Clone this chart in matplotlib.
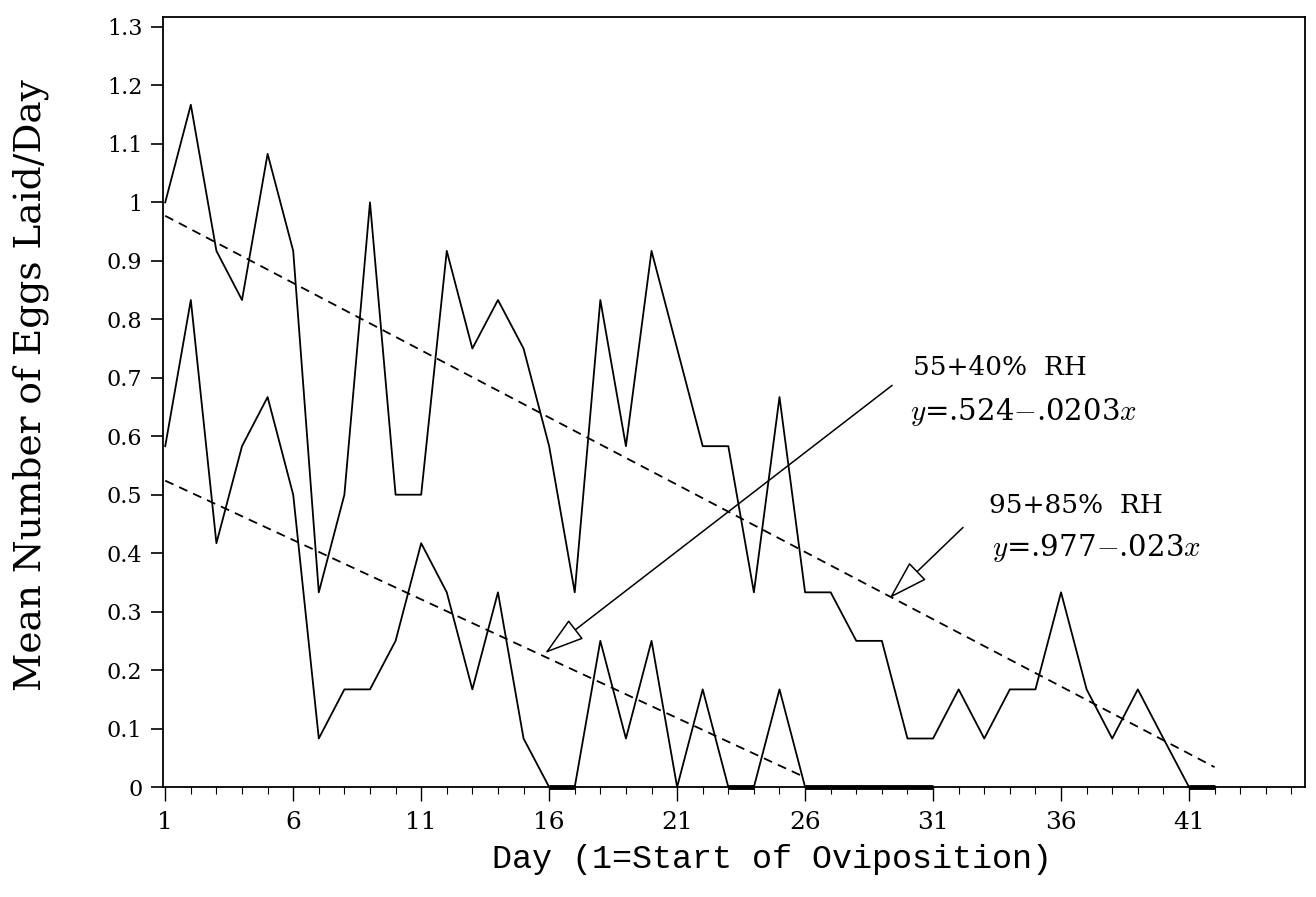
import numpy as np
import matplotlib
matplotlib.use("Agg")
import matplotlib.pyplot as plt
from matplotlib.ticker import FixedLocator

# mean eggs per day
days_high = np.arange(1, 43)
eggs_high = [1.0, 1.167, 0.917, 0.833, 1.083, 0.917, 0.333, 0.5, 1.0, 0.5,
             0.5, 0.917, 0.75, 0.833, 0.75, 0.583, 0.333, 0.833, 0.583, 0.917,
             0.75, 0.583, 0.583, 0.333, 0.667, 0.333, 0.333, 0.25, 0.25, 0.083,
             0.083, 0.167, 0.083, 0.167, 0.167, 0.333, 0.167, 0.083, 0.167, 0.083,
             0.0, 0.0]

days_low = np.arange(1, 32)
eggs_low = [0.583, 0.833, 0.417, 0.583, 0.667, 0.5, 0.083, 0.167, 0.167, 0.25,
            0.417, 0.333, 0.167, 0.333, 0.083, 0.0, 0.0, 0.25, 0.083, 0.25,
            0.0, 0.167, 0.0, 0.0, 0.167, 0.0, 0.0, 0.0, 0.0, 0.0, 0.0]

# regression fits (x counted from start of oviposition)
fit_high = (0.977, 0.023)
fit_low = (0.524, 0.0203)
fit_high_end = 42
fit_low_end = 26

y_ticks = [0, 0.1, 0.2, 0.3, 0.4, 0.5, 0.6, 0.7, 0.8, 0.9, 1.0, 1.1, 1.2, 1.3]
y_ticklabels = ['0', '0.1', '0.2', '0.3', '0.4', '0.5', '0.6', '0.7',
                '0.8', '0.9', '1', '1.1', '1.2', '1.3']
x_ticks = [1, 6, 11, 16, 21, 26, 31, 36, 41]

plt.rcParams['mathtext.fontset'] = 'cm'

fig = plt.figure(figsize=(13.16, 8.97), dpi=100)
ax = fig.add_axes([0.124, 0.1226, 0.8676, 0.8584])

for d, v in [(days_high, eggs_high), (days_low, eggs_low)]:
    v = np.asarray(v)
    ax.plot(d, v, color='black', lw=1.3, clip_on=False, zorder=3)
    # stretches lying on the axis show up as heavy bars in the original
    both = (v[:-1] == 0) & (v[1:] == 0)
    zr = np.full(len(v), np.nan)
    for i in np.where(both)[0]:
        zr[i] = v[i]
        zr[i + 1] = v[i + 1]
    ax.plot(d, zr, color='black', lw=3.5, clip_on=False, zorder=3,
            solid_capstyle='butt')

xh = np.array([1, fit_high_end])
ax.plot(xh, fit_high[0] - fit_high[1] * (xh - 1), color='black', lw=1.3,
        ls=(0, (5, 3.5)))
xl = np.array([1, fit_low_end])
ax.plot(xl, fit_low[0] - fit_low[1] * (xl - 1), color='black', lw=1.3,
        ls=(0, (5, 3.5)))

arrow_style = '-|>,head_length=1.28,head_width=0.39'
ax.annotate('', xy=(15.84, 0.229), xytext=(29.4, 0.687),
            arrowprops=dict(arrowstyle=arrow_style, fc='white', ec='black',
                            lw=1.1, shrinkA=0, shrinkB=0, mutation_scale=20))
ax.annotate('', xy=(29.3, 0.323), xytext=(32.17, 0.444),
            arrowprops=dict(arrowstyle=arrow_style, fc='white', ec='black',
                            lw=1.1, shrinkA=0, shrinkB=0, mutation_scale=20))

lab_font = dict(family='DejaVu Serif', fontsize=19, va='center', ha='left')
ax.text(30.2, 0.718, '55+40%  RH', **lab_font)
ax.text(30.1, 0.641, r'$y$=.524$-$.0203$x$', family='DejaVu Serif',
        fontsize=21, va='center', ha='left')
ax.text(33.2, 0.482, '95+85%  RH', **lab_font)
ax.text(33.3, 0.409, r'$y$=.977$-$.023$x$', family='DejaVu Serif',
        fontsize=21, va='center', ha='left')

ax.set_xlim(0.92, 45.53)
ax.set_ylim(0, 1.317)

ax.xaxis.set_major_locator(FixedLocator(x_ticks))
ax.xaxis.set_minor_locator(FixedLocator(np.arange(1, 46, 1)))
ax.set_yticks(y_ticks)
ax.set_yticklabels(y_ticklabels)

ax.tick_params(axis='y', direction='out', length=9, width=1.2, pad=6,
               labelsize=16)
ax.tick_params(axis='x', which='major', direction='out', length=10, width=1,
               pad=7, labelsize=18)
ax.tick_params(axis='x', which='minor', direction='out', length=5, width=0.8)
for lab in ax.get_yticklabels() + ax.get_xticklabels():
    lab.set_family('DejaVu Serif')

for s in ax.spines.values():
    s.set_linewidth(1.3)

ax.set_xlabel('Day (1=Start of Oviposition)', family='Liberation Mono',
              fontsize=24)
ax.xaxis.set_label_coords(0.533, -0.074)
ax.set_ylabel('Mean Number of Eggs Laid/Day', family='DejaVu Serif',
              fontsize=27)
ax.yaxis.set_label_coords(-0.1, 0.522)

fig.savefig('out.png', dpi=100)
